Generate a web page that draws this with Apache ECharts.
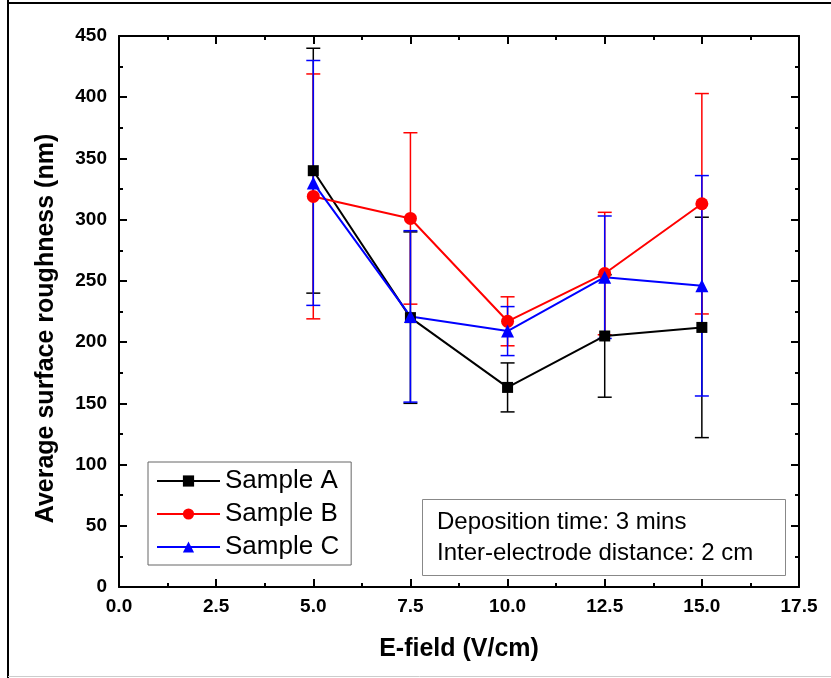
<!DOCTYPE html>
<html lang="en">
<head>
  <meta charset="UTF-8">
  <script src="https://cdn.jsdelivr.net/npm/echarts@6.0.0/dist/echarts.min.js"></script>
</head>
<body style="margin:0;background:#fff;">
  <div id="roughnessChart" style="width: 831px;height:678px;"></div>

  <script type="text/javascript">

    var eField = [5, 7.5, 10, 12.5, 15];
    var sampleA = [340, 220, 163, 205, 212];
    var sampleB = [319, 301, 217, 256, 313];
    var sampleC = [330, 221, 209, 253, 246];
    var errA = [100, 70, 20, 50, 90];
    var errB = [100, 70, 20, 50, 90];
    var errC = [100, 70, 20, 50, 90];
    var seriesNames = ['Sample A', 'Sample B', 'Sample C'];
    var noteLines = ['Deposition time: 3 mins', 'Inter-electrode distance: 2 cm'];

    const font = 'Arial, "Liberation Sans", sans-serif';

    function pairs(ys) {
        return eField.map((x, i) => [x, ys[i]]);
    }

    function errData(ys, errs) {
        return eField.map((x, i) => [x, ys[i] - errs[i], ys[i] + errs[i]]);
    }

    function renderErr(params, api) {
        const lo = api.coord([api.value(0), api.value(1)]);
        const hi = api.coord([api.value(0), api.value(2)]);
        const w = 7;
        const style = { stroke: api.visual('color'), lineWidth: 1.5 };
        return {
            type: 'group',
            children: [
                { type: 'line', shape: { x1: lo[0], y1: lo[1], x2: hi[0], y2: hi[1] }, style: style },
                { type: 'line', shape: { x1: lo[0] - w, y1: lo[1], x2: lo[0] + w, y2: lo[1] }, style: style },
                { type: 'line', shape: { x1: hi[0] - w, y1: hi[1], x2: hi[0] + w, y2: hi[1] }, style: style }
            ]
        };
    }

    function errSeries(ys, errs, color, z) {
        return {
            type: 'custom',
            renderItem: renderErr,
            data: errData(ys, errs),
            encode: { x: 0, y: [1, 2] },
            itemStyle: { color: color },
            z: z,
            silent: true
        };
    }

    function lineSeries(name, ys, color, symbol, size) {
        return {
            name: name,
            type: 'line',
            data: pairs(ys),
            symbol: symbol,
            symbolSize: size,
            color: color,
            lineStyle: { color: color, width: 2 },
            itemStyle: { color: color },
            z: 10
        };
    }

    const axisLineStyle = { onZero: false, lineStyle: { color: '#000', width: 2 } };
    const tickStyle = { inside: true, length: 8, lineStyle: { width: 2, color: '#000' } };
    const minorStyle = { show: true, splitNumber: 2, length: 4, lineStyle: { width: 2, color: '#000' } };

    const chart = echarts.init(document.getElementById('roughnessChart'));

    let option = {
        animation: false,
        grid: { left: 119, right: 32, top: 36, bottom: 91 },
        xAxis: [
            {
                type: 'value', min: 0, max: 17.5, interval: 2.5,
                name: 'E-field (V/cm)', nameLocation: 'middle', nameGap: 50,
                nameTextStyle: { fontFamily: font, fontWeight: 'bold', fontSize: 25, color: '#000' },
                axisLine: axisLineStyle,
                axisTick: tickStyle,
                minorTick: minorStyle,
                axisLabel: { fontFamily: font, fontWeight: 'bold', fontSize: 19, color: '#000', margin: 10,
                             formatter: v => v.toFixed(1) },
                splitLine: { show: false }
            },
            {
                type: 'value', position: 'top', min: 0, max: 17.5, interval: 2.5,
                axisLine: axisLineStyle,
                axisTick: tickStyle,
                minorTick: minorStyle,
                axisLabel: { show: false },
                splitLine: { show: false }
            }
        ],
        yAxis: [
            {
                type: 'value', min: 0, max: 450, interval: 50,
                name: 'Average surface roughness (nm)', nameLocation: 'middle', nameGap: 60,
                nameTextStyle: { fontFamily: font, fontWeight: 'bold', fontSize: 25, color: '#000',
                                 padding: [0, 34, 0, 0] },
                axisLine: axisLineStyle,
                axisTick: tickStyle,
                minorTick: minorStyle,
                axisLabel: { fontFamily: font, fontWeight: 'bold', fontSize: 19, color: '#000', margin: 12 },
                splitLine: { show: false }
            },
            {
                type: 'value', position: 'right', min: 0, max: 450, interval: 50,
                axisLine: axisLineStyle,
                axisTick: tickStyle,
                minorTick: minorStyle,
                axisLabel: { show: false },
                splitLine: { show: false }
            }
        ],
        legend: {
            orient: 'vertical',
            left: 148, top: 462,
            padding: [6, 12, 5, 8],
            itemGap: 7,
            itemWidth: 63, itemHeight: 14,
            borderColor: '#666', borderWidth: 1,
            backgroundColor: '#fff',
            textStyle: { fontFamily: font, fontSize: 26, color: '#000', lineHeight: 26 },
            data: seriesNames
        },
        graphic: [
            { type: 'line', shape: { x1: 8, y1: 0, x2: 8, y2: 678 }, style: { stroke: '#000', lineWidth: 2 } },
            { type: 'line', shape: { x1: 8, y1: 3, x2: 831, y2: 3 }, style: { stroke: '#000', lineWidth: 2 } },
            { type: 'line', shape: { x1: 8, y1: 676.5, x2: 831, y2: 676.5 }, style: { stroke: '#ccc', lineWidth: 1 } },
            {
                type: 'rect', left: 422, top: 499, z: 20,
                shape: { width: 363, height: 76 },
                style: { fill: '#fff', stroke: '#888', lineWidth: 1 }
            },
            {
                type: 'text', left: 437, top: 507, z: 21,
                style: { text: noteLines.join('\n'), fontFamily: font, fontSize: 24, lineHeight: 31, fill: '#000' }
            }
        ],
        series: [
            errSeries(sampleA, errA, '#000000', 2),
            errSeries(sampleB, errB, '#ff0000', 3),
            errSeries(sampleC, errC, '#0000ff', 4),
            lineSeries(seriesNames[0], sampleA, '#000000', 'rect', 11),
            lineSeries(seriesNames[1], sampleB, '#ff0000', 'circle', 13),
            lineSeries(seriesNames[2], sampleC, '#0000ff', 'triangle', 13)
        ]
    };

    chart.setOption(option);
  </script>
</body>
</html>
